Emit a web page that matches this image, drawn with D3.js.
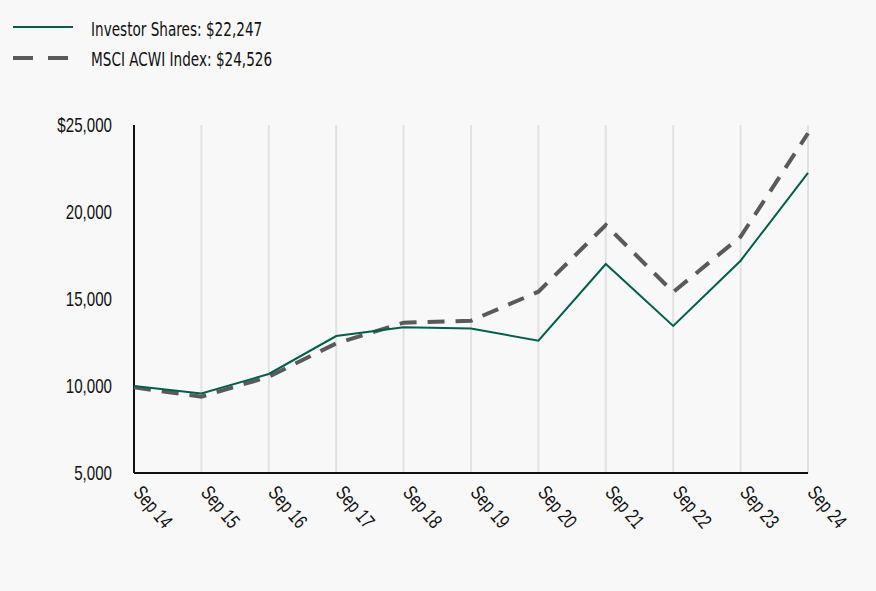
<!DOCTYPE html>
<meta charset="utf-8">
<style>
body { margin: 0; background: #f8f8f8; }
svg { font-family: "Liberation Sans Narrow", "DejaVu Sans Condensed", sans-serif; }
.tick text { font-size: 20px; fill: #111; }
.legend text { font-size: 20px; fill: #111; }
</style>
<body>
<svg width="876" height="591"></svg>
<script src="https://cdn.jsdelivr.net/npm/d3@7"></script>
<script>
var years = ["Sep 14", "Sep 15", "Sep 16", "Sep 17", "Sep 18", "Sep 19", "Sep 20", "Sep 21", "Sep 22", "Sep 23", "Sep 24"];
var investor = [10000, 9570, 10690, 12870, 13370, 13310, 12600, 17010, 13450, 17200, 22247];
var msci = [9920, 9390, 10530, 12450, 13640, 13750, 15420, 19250, 15400, 18580, 24526];
var yTicks = [5000, 10000, 15000, 20000, 25000];

var sx = 0.757; // squeeze text to look like the condensed face

var svg = d3.select("svg");
svg.append("rect").attr("width", 876).attr("height", 591).attr("fill", "#f8f8f8");

var margin = {left: 134, right: 68, top: 125, bottom: 118};
var width = 876 - margin.left - margin.right,
    height = 591 - margin.top - margin.bottom;
var g = svg.append("g").attr("transform", "translate(" + margin.left + "," + margin.top + ")");

var x = d3.scalePoint().domain(years).range([0, width]);
var y = d3.scaleLinear().domain([5000, 25000]).range([height, 0]);

// vertical grid
g.selectAll(".grid").data(years.slice(1)).enter().append("line")
  .attr("x1", function(d) { return x(d); }).attr("x2", function(d) { return x(d); })
  .attr("y1", 0).attr("y2", height)
  .attr("stroke", "#e2e2e2").attr("stroke-width", 2);

var yAxis = g.append("g")
  .call(d3.axisLeft(y).tickValues(yTicks).tickSize(0).tickPadding(22)
    .tickFormat(function(d) { return (d === 25000 ? "$" : "") + d3.format(",")(d); }));
yAxis.select(".domain").remove();
yAxis.selectAll("text")
  .attr("x", -22 / sx)
  .attr("transform", "scale(" + sx + ",1)");

var xAxis = g.append("g").attr("transform", "translate(0," + height + ")")
  .call(d3.axisBottom(x).tickSize(0));
xAxis.select(".domain").remove();
xAxis.selectAll("text")
  .attr("text-anchor", "start")
  .attr("dy", null).attr("y", 0)
  .attr("transform", "translate(-2,20) rotate(50) scale(" + sx + ",1)");

g.append("line").attr("x1", 0).attr("x2", 0).attr("y1", 0).attr("y2", height)
  .attr("stroke", "#111").attr("stroke-width", 2);
g.append("line").attr("x1", 0).attr("x2", width).attr("y1", height).attr("y2", height)
  .attr("stroke", "#111").attr("stroke-width", 2);

var line = d3.line()
  .x(function(d, i) { return x(years[i]); })
  .y(function(d) { return y(d); });

g.append("path").datum(msci).attr("d", line)
  .attr("fill", "none").attr("stroke", "#5a5a5a").attr("stroke-width", 4)
  .attr("stroke-dasharray", "17,11");
g.append("path").datum(investor).attr("d", line)
  .attr("fill", "none").attr("stroke", "#00604a").attr("stroke-width", 2);

// legend
var legend = svg.append("g").attr("class", "legend");
legend.append("line").attr("x1", 13).attr("x2", 73).attr("y1", 27).attr("y2", 27)
  .attr("stroke", "#00604a").attr("stroke-width", 2);
legend.append("text").attr("transform", "translate(91,36) scale(" + sx + ",1)")
  .text("Investor Shares: $22,247");
legend.append("line").attr("x1", 13).attr("x2", 69).attr("y1", 58).attr("y2", 58)
  .attr("stroke", "#5a5a5a").attr("stroke-width", 4).attr("stroke-dasharray", "20,15");
legend.append("text").attr("transform", "translate(91,66) scale(" + sx + ",1)")
  .text("MSCI ACWI Index: $24,526");
</script>
</body>
